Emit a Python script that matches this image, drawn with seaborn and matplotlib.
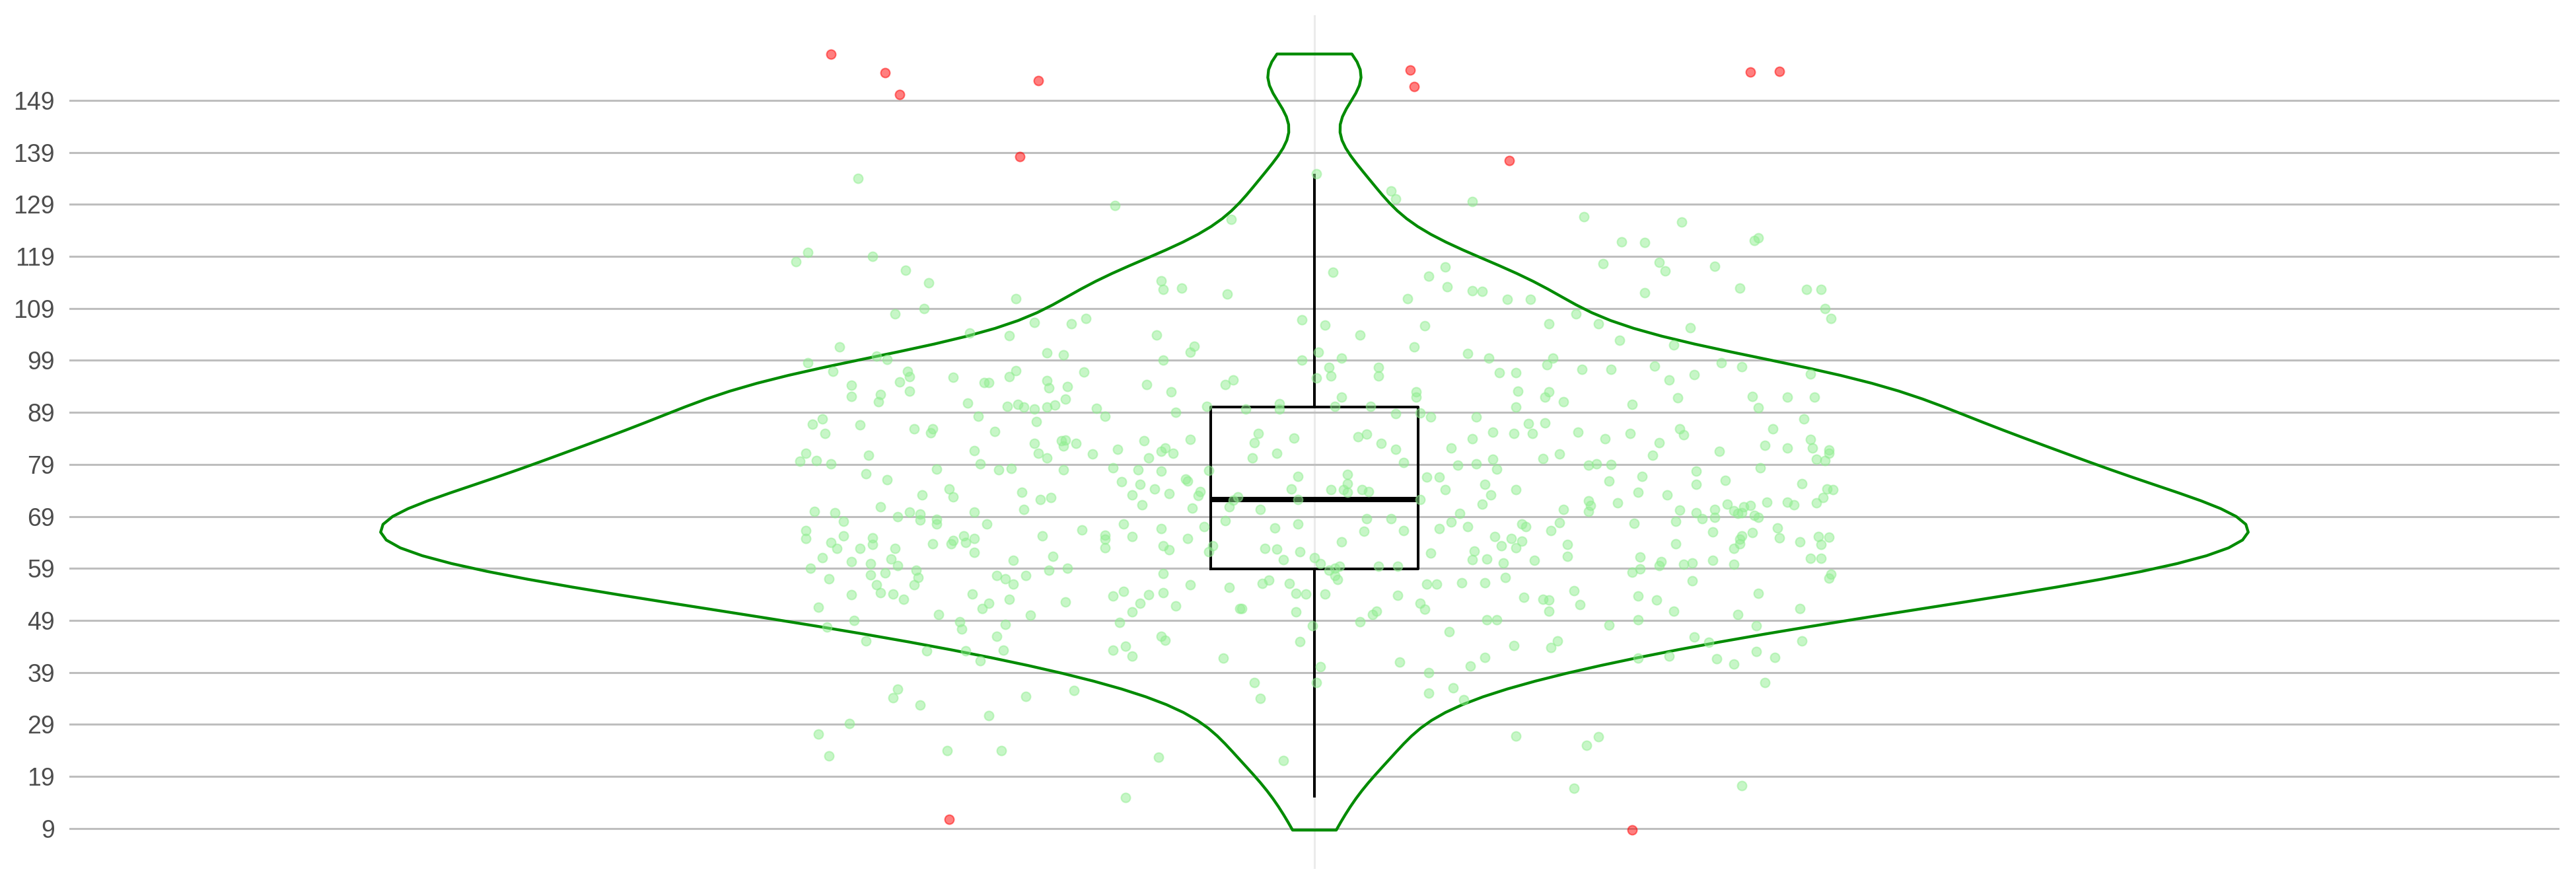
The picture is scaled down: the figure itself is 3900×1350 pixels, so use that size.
import numpy as np
import matplotlib
matplotlib.use('Agg')
import matplotlib.pyplot as plt
import seaborn as sns

# Values.
# Each green point: measured value and its horizontal jitter (in category units).
green_values = [
    134.0, 128.8, 118.0, 119.8, 119.0, 116.3, 113.9, 110.9, 114.3, 112.6,
    109.0, 107.9, 106.3, 106.0, 107.0, 104.2, 103.8, 103.9, 101.6, 100.4,
    100.1, 98.6, 99.8, 99.2, 99.1, 96.9, 96.9, 95.9, 97.0, 95.9,
    96.8, 95.7, 94.2, 94.8, 93.1, 94.7, 94.7, 95.1, 93.7, 94.0,
    94.3, 92.9, 92.1, 92.4, 91.0, 90.8, 91.6, 90.2, 90.6, 90.0,
    89.7, 90.0, 90.4, 89.8, 88.2, 89.0, 88.3, 87.2, 87.7, 86.7,
    86.6, 84.9, 85.9, 85.1, 85.8, 85.3, 83.1, 83.6, 83.7, 82.6,
    83.0, 83.6, 81.9, 81.5, 82.1, 81.1, 81.2, 79.6, 79.7, 79.1,
    80.8, 81.6, 81.2, 80.3, 81.0, 80.2, 77.2, 76.1, 78.1, 79.1,
    78.0, 78.2, 78.0, 78.3, 78.0, 77.7, 75.7, 75.2,
    134.9, 131.6, 130.1, 129.6, 126.1, 116.0, 115.2, 116.9, 113.1, 112.4,
    112.2, 110.9, 110.7, 110.7, 112.9, 111.8, 106.8, 105.8, 103.9, 105.7,
    106.1, 101.7, 100.6, 100.6, 101.6, 100.3, 99.0, 99.4, 99.4, 99.4,
    98.1, 97.7, 96.0, 97.6, 96.0, 95.6, 96.6, 96.7, 94.3, 95.2,
    93.0, 92.0, 93.1, 93.0, 92.0, 91.0, 92.0, 90.1, 89.7, 90.7,
    89.6, 90.1, 90.2, 90.0, 88.8, 88.9, 88.1, 88.1, 86.8, 87.0,
    85.2, 84.9, 85.0, 83.9, 83.8, 85.0, 83.2, 84.1, 84.3, 84.8,
    83.0, 81.9, 81.1, 80.2, 82.2, 81.0, 80.1, 79.4, 78.8, 79.1,
    80.0, 78.1, 77.8, 76.2, 75.8, 76.7, 77.1, 76.6, 76.6, 75.3,
    75.2,
    126.6, 125.6, 121.8, 121.6, 122.0, 122.6, 117.6, 117.9, 116.2, 117.1,
    112.0, 112.9, 112.6, 112.7, 109.0, 107.1, 107.9, 106.1, 105.3, 102.9,
    102.0, 97.3, 97.3, 97.9, 98.6, 97.8, 96.3, 95.2, 96.4, 91.8,
    92.1, 91.9, 91.9, 90.6, 89.9, 87.8, 85.2, 83.9, 84.9, 85.9,
    84.7, 83.2, 85.9, 83.8, 82.7, 82.2, 82.1, 81.8, 81.1, 80.8,
    81.5, 80.0, 79.8, 78.8, 79.1, 79.0, 78.3, 77.7, 76.7, 75.8,
    75.9, 75.2, 75.3,
    73.2, 74.3, 72.8, 73.6, 72.3, 72.6, 73.1, 71.2, 74.3, 73.4,
    70.0, 69.7, 70.9, 68.0, 68.9, 69.8, 69.4, 68.3, 68.5, 67.6,
    69.8, 67.6, 70.3, 66.3, 64.7, 64.0, 65.2, 62.9, 62.9, 64.9,
    63.6, 62.9, 61.1, 60.3, 59.1, 59.9, 60.8, 59.6, 63.7, 63.7,
    64.4, 65.2, 64.0, 64.8, 62.1, 65.3, 66.4, 65.4, 64.6, 63.0,
    67.6, 65.1, 66.7, 63.3, 62.6, 60.6, 61.3, 58.7, 59.1, 57.7,
    58.6, 57.3, 57.8, 58.2, 57.0, 55.8, 55.8, 54.3, 54.1, 53.1,
    53.9, 57.6, 57.0, 56.0, 54.1, 53.1, 52.3, 51.3, 58.0, 54.4,
    54.6, 53.7, 53.9, 52.3, 50.6, 52.6, 51.8, 51.6, 50.1, 50.0,
    49.0, 47.7, 48.8, 47.3, 48.3, 48.6, 45.1, 45.9, 43.2, 43.1,
    43.3, 41.2, 43.3, 44.1, 42.2, 46.0, 45.2, 35.8, 34.1, 32.7,
    34.4, 35.6, 30.7, 29.2, 27.2, 23.0, 24.0, 24.0, 22.7, 15.0,
    73.8, 73.0, 70.6, 74.3, 74.1, 74.1, 73.6, 74.1, 73.8, 74.1,
    74.1, 73.1, 71.3, 69.6, 70.3, 70.9, 72.1, 72.7, 70.3, 72.3,
    72.3, 67.0, 68.2, 66.8, 67.6, 68.6, 68.6, 66.2, 66.3, 64.8,
    63.3, 62.2, 62.9, 62.7, 62.2, 64.1, 60.7, 61.1, 59.9, 62.0,
    66.7, 67.9, 67.1, 65.1, 64.8, 67.6, 67.1, 64.3, 63.3, 63.0,
    62.3, 60.7, 60.8, 60.1, 60.6, 66.3, 67.8, 63.6, 61.3, 58.7,
    59.1, 59.4, 57.6, 56.9, 59.4, 59.4, 55.8, 55.3, 56.1, 56.8,
    56.1, 54.2, 54.1, 54.1, 51.3, 51.3, 50.6, 53.8, 52.3, 51.1,
    56.0, 56.0, 56.3, 56.2, 57.2, 53.4, 53.1, 52.9, 50.8, 50.8,
    50.2, 48.8, 49.1, 49.1, 48.0, 46.8, 45.0, 44.2, 45.1, 43.8,
    41.8, 40.1, 41.0, 40.3, 41.9, 39.0, 37.0, 37.1, 36.1, 35.0,
    34.0, 33.7, 26.8, 22.1,
    73.7, 73.2, 74.3, 74.1, 72.0, 71.1, 70.0, 71.6, 70.2, 69.7,
    68.6, 70.4, 68.8, 71.3, 70.1, 69.6, 69.7, 70.8, 71.1, 69.2,
    68.8, 71.8, 71.7, 71.2, 71.6, 72.6, 67.7, 68.0, 66.0, 65.9,
    66.8, 64.9, 65.3, 64.6, 63.7, 62.8, 63.8, 64.1, 65.1, 63.6,
    65.0, 61.2, 60.3, 59.5, 58.3, 58.9, 59.8, 60.1, 60.6, 59.8,
    61.0, 61.0, 57.1, 57.9, 56.6, 54.7, 52.1, 53.7, 53.0, 54.2,
    50.8, 50.2, 51.3, 48.1, 49.1, 48.0, 45.8, 44.8, 45.1, 41.7,
    42.1, 41.6, 40.6, 43.0, 41.9, 37.1, 26.7, 25.0, 17.2, 16.7,
]
green_jitter = [
    -0.220, -0.096, -0.250, -0.244, -0.213, -0.197, -0.186, -0.144, -0.074, -0.073,
    -0.188, -0.202, -0.135, -0.117, -0.110, -0.166, -0.147, -0.076, -0.229, -0.129,
    -0.121, -0.244, -0.211, -0.206, -0.073, -0.232, -0.196, -0.195, -0.144, -0.147,
    -0.111, -0.174, -0.223, -0.200, -0.195, -0.159, -0.157, -0.129, -0.128, -0.119,
    -0.081, -0.069, -0.223, -0.209, -0.210, -0.167, -0.120, -0.148, -0.143, -0.140,
    -0.135, -0.129, -0.125, -0.105, -0.101, -0.067, -0.162, -0.134, -0.237, -0.242,
    -0.219, -0.236, -0.193, -0.185, -0.184, -0.154, -0.135, -0.122, -0.120, -0.121,
    -0.115, -0.082, -0.095, -0.074, -0.072, -0.068, -0.245, -0.248, -0.240, -0.233,
    -0.215, -0.164, -0.133, -0.129, -0.107, -0.080, -0.216, -0.206, -0.182, -0.161,
    -0.152, -0.146, -0.121, -0.097, -0.085, -0.074, -0.093, -0.084,
    0.001, 0.037, 0.039, 0.076, -0.040, 0.009, 0.055, 0.063, 0.064, 0.076,
    0.081, 0.045, 0.093, 0.104, -0.064, -0.042, -0.006, 0.005, 0.022, 0.053,
    0.113, -0.058, -0.060, 0.002, 0.048, 0.074, -0.006, 0.013, 0.084, 0.115,
    0.112, 0.007, 0.008, 0.031, 0.031, 0.001, 0.089, 0.097, -0.043, -0.039,
    0.049, 0.049, 0.098, 0.113, 0.111, 0.120, 0.013, -0.052, -0.033, -0.017,
    -0.017, 0.010, 0.027, 0.097, 0.039, 0.051, 0.056, 0.078, 0.103, 0.111,
    0.086, 0.096, 0.105, 0.076, -0.060, -0.027, -0.029, -0.010, 0.021, 0.025,
    0.032, 0.039, -0.018, -0.030, 0.066, 0.118, 0.110, 0.043, 0.069, 0.078,
    0.086, 0.088, -0.051, -0.062, -0.061, -0.008, 0.016, 0.054, 0.060, 0.016,
    0.082,
    0.130, 0.177, 0.148, 0.159, 0.212, 0.214, 0.139, 0.166, 0.169, 0.193,
    0.159, 0.205, 0.237, 0.244, 0.246, 0.249, 0.126, 0.137, 0.181, 0.147,
    0.173, 0.129, 0.143, 0.164, 0.196, 0.206, 0.183, 0.171, 0.239, 0.175,
    0.211, 0.228, 0.241, 0.153, 0.214, 0.236, 0.127, 0.140, 0.152, 0.176,
    0.178, 0.166, 0.221, 0.239, 0.217, 0.228, 0.240, 0.248, 0.248, 0.163,
    0.195, 0.242, 0.246, 0.132, 0.136, 0.143, 0.215, 0.184, 0.158, 0.142,
    0.198, 0.184, 0.235,
    -0.189, -0.176, -0.174, -0.141, -0.132, -0.127, -0.088, -0.083, -0.077, -0.070,
    -0.241, -0.231, -0.209, -0.227, -0.201, -0.195, -0.190, -0.190, -0.182, -0.182,
    -0.164, -0.158, -0.140, -0.245, -0.245, -0.233, -0.227, -0.230, -0.219, -0.213,
    -0.213, -0.202, -0.237, -0.223, -0.243, -0.214, -0.204, -0.201, -0.184, -0.175,
    -0.174, -0.169, -0.168, -0.164, -0.164, -0.131, -0.112, -0.101, -0.101, -0.101,
    -0.092, -0.088, -0.074, -0.073, -0.070, -0.145, -0.126, -0.128, -0.119, -0.139,
    -0.192, -0.191, -0.214, -0.207, -0.234, -0.211, -0.193, -0.209, -0.203, -0.198,
    -0.223, -0.153, -0.149, -0.145, -0.165, -0.147, -0.157, -0.160, -0.073, -0.073,
    -0.092, -0.097, -0.080, -0.084, -0.088, -0.120, -0.067, -0.239, -0.181, -0.137,
    -0.222, -0.235, -0.171, -0.170, -0.149, -0.094, -0.216, -0.153, -0.187, -0.168,
    -0.150, -0.161, -0.097, -0.091, -0.088, -0.074, -0.072, -0.201, -0.203, -0.190,
    -0.139, -0.116, -0.157, -0.224, -0.239, -0.234, -0.177, -0.151, -0.075, -0.091,
    -0.055, -0.056, -0.059, -0.011, 0.008, 0.014, 0.016, 0.023, 0.026, 0.063,
    0.097, 0.085, 0.081, 0.070, 0.120, -0.041, -0.039, -0.037, -0.026, -0.008,
    0.051, -0.053, -0.043, -0.019, -0.008, 0.025, 0.037, 0.024, 0.043, -0.061,
    -0.049, -0.051, -0.024, -0.018, -0.007, 0.013, -0.015, 0.000, 0.003, 0.056,
    0.060, 0.066, 0.074, 0.087, 0.095, 0.100, 0.102, 0.100, 0.090, 0.097,
    0.077, 0.076, 0.083, 0.091, 0.106, 0.114, 0.118, 0.122, 0.122, 0.007,
    0.010, 0.012, 0.010, 0.011, 0.031, 0.040, -0.060, -0.041, -0.025, -0.022,
    -0.012, -0.009, -0.004, 0.005, -0.036, -0.035, -0.009, 0.040, 0.051, 0.053,
    0.054, 0.059, 0.071, 0.082, 0.092, 0.101, 0.110, 0.113, 0.113, 0.030,
    0.028, 0.022, 0.083, 0.088, -0.001, 0.065, -0.007, 0.096, 0.117, 0.114,
    -0.044, 0.003, 0.041, 0.075, 0.082, 0.055, -0.029, 0.001, 0.067, 0.055,
    -0.026, 0.072, 0.097, -0.015,
    0.156, 0.170, 0.247, 0.250, 0.132, 0.133, 0.132, 0.146, 0.176, 0.184,
    0.187, 0.193, 0.193, 0.199, 0.202, 0.204, 0.206, 0.207, 0.210, 0.212,
    0.214, 0.218, 0.228, 0.231, 0.242, 0.245, 0.154, 0.174, 0.192, 0.211,
    0.223, 0.224, 0.206, 0.205, 0.205, 0.202, 0.174, 0.234, 0.243, 0.244,
    0.248, 0.157, 0.167, 0.166, 0.153, 0.157, 0.178, 0.182, 0.192, 0.202,
    0.239, 0.244, 0.248, 0.249, 0.182, 0.125, 0.128, 0.156, 0.165, 0.214,
    0.173, 0.204, 0.234, 0.142, 0.156, 0.213, 0.183, 0.190, 0.235, 0.156,
    0.171, 0.194, 0.202, 0.213, 0.222, 0.217, 0.137, 0.131, 0.206, 0.125,
]

# points beyond the whiskers (drawn in red)
outlier_values = [157.9, 154.3, 150.1, 152.8, 138.2, 154.8, 151.7, 154.4, 154.6, 137.4, 10.8, 8.7]
outlier_jitter = [-0.233, -0.207, -0.200, -0.133, -0.142, 0.046, 0.048, 0.210, 0.224, 0.094, -0.176, 0.153]

y_ticks = [9, 19, 29, 39, 49, 59, 69, 79, 89, 99, 109, 119, 129, 139, 149]

assert len(green_values) == len(green_jitter), (len(green_values), len(green_jitter))
assert len(outlier_values) == len(outlier_jitter)

all_values = np.array(green_values + outlier_values)


def nrd0_factor(v):
    """ Silverman's rule of thumb, expressed as a scipy bandwidth factor. """
    sd = np.std(v, ddof=1)
    q75, q25 = np.percentile(v, [75, 25])
    return 0.9 * min(sd, (q75 - q25) / 1.34) / sd * len(v) ** -0.2


plt.rcParams['font.family'] = ['Liberation Sans', 'DejaVu Sans']

fig = plt.figure(figsize=(39, 13.5), dpi=100)
ax = fig.add_axes([105 / 3900, 35 / 1350, 3770 / 3900, 1292 / 1350])

sns.violinplot(y=all_values, ax=ax, cut=0, fill=False, color='#008B00', linewidth=3.1,
               inner=None, width=0.9, bw_method=nrd0_factor(all_values))
sns.boxplot(y=all_values, ax=ax, width=0.1, fill=False, color='black', linewidth=2.9,
            showcaps=False, showfliers=False, medianprops={'linewidth': 5.8})

sns.scatterplot(x=green_jitter, y=green_values, ax=ax, color='#90EE90', alpha=0.5,
                s=100, edgecolor='#90EE90', linewidth=1.5, zorder=3)
sns.scatterplot(x=outlier_jitter, y=outlier_values, ax=ax, color='red', alpha=0.5,
                s=100, edgecolor='red', linewidth=1.5, zorder=3)

ax.set_xlim(-0.6, 0.6)
ax.set_ylim(1.24, 165.36)
ax.set_xticks([0])
ax.set_xticklabels([''])
ax.set_yticks(y_ticks)
ax.set_yticklabels([str(t) for t in y_ticks], fontsize=27, color='#4D4D4D')
ax.tick_params(axis='both', length=0)
ax.tick_params(axis='y', pad=16)
ax.set_xlabel('')
ax.set_ylabel('')

ax.set_axisbelow(True)
ax.yaxis.grid(True, color='#BEBEBE', linewidth=2.2)
ax.xaxis.grid(True, color='#EBEBEB', linewidth=2.2)
for side in ax.spines.values():
    side.set_visible(False)

fig.savefig('out.png', dpi=100)
